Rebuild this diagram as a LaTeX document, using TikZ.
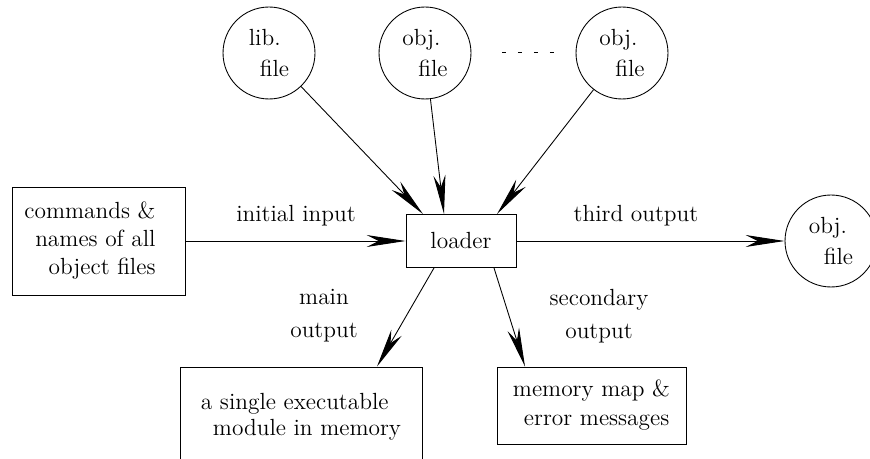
\documentclass[tikz,border=0pt]{standalone}
\usetikzlibrary{arrows.meta}
\tikzset{
    box/.style={draw, rectangle, inner sep=0pt},
    filecirc/.style={draw, circle, minimum size=1.84cm, inner sep=0pt, align=left,
        font=\fontsize{13.3}{18}\selectfont},
    flow/.style={-{Stealth[length=0.78cm, width=0.24cm, inset=0.24cm]}},
    twolbl/.style={align=center, font=\fontsize{13.3}{18.8}\selectfont},
}
\begin{document}
\begin{tikzpicture}[x=0.02cm, y=-0.02cm, line width=0.5pt, font=\fontsize{13.3}{16}\selectfont]
    \clip (0,0) rectangle (870,459);

    % input files
    \node[filecirc] (lib) at (269,53) {lib.\\\hspace*{0.22cm}file};
    \node[filecirc] (obja) at (425,53) {obj.\\\hspace*{0.32cm}file};
    \node[filecirc] (objb) at (622,53) {obj.\\\hspace*{0.32cm}file};
    \draw[dash pattern=on 2.3pt off 6.8pt] (502,52) -- (556,52);

    % loader and its input
    \node[box, minimum width=2.2cm, minimum height=1.06cm] (loader) at (461,241) {loader};
    \node[box, minimum width=3.46cm, minimum height=2.16cm] (cmds) at (98.5,241)
        {\begin{tabular}{@{}r@{\hspace{0.34cm}}}commands \&\\names of all\\object files\end{tabular}};

    % outputs
    \node[filecirc] (objout) at (831,241) {obj.\\\hspace*{0.3cm}file};
    \node[box, minimum width=4.84cm, minimum height=2.0cm, align=left,
        font=\fontsize{13.3}{14.5}\selectfont] (mainbox) at (301,417)
        {a single executable\\\hspace*{0.24cm}module in memory};
    \node[box, minimum width=3.78cm, minimum height=1.54cm, align=left,
        font=\fontsize{13.3}{16.5}\selectfont] (membox) at (591.5,405.5)
        {memory map \&\\\hspace*{0.22cm}error messages};

    % labels
    \node (initlbl) at (296,216) {initial input};
    \node (thirdlbl) at (636,216) {third output};
    \node[twolbl] (mainlbl) at (324,316) {main\\output};
    \node[twolbl] (seclbl) at (599,316) {secondary\\output};

    % arrows
    \draw[flow] (lib) -- ([xshift=-0.76cm]loader.north);
    \draw[flow] (obja) -- ([xshift=-0.34cm]loader.north);
    \draw[flow] (objb) -- ([xshift=0.72cm]loader.north);
    \draw[flow] (cmds) -- (loader);
    \draw[flow] (loader) -- (objout);
    \draw[flow] ([xshift=-0.54cm]loader.south) -- ([xshift=1.52cm]mainbox.north);
    \draw[flow] ([xshift=0.66cm]loader.south) -- ([xshift=-1.33cm]membox.north);
\end{tikzpicture}
\end{document}
